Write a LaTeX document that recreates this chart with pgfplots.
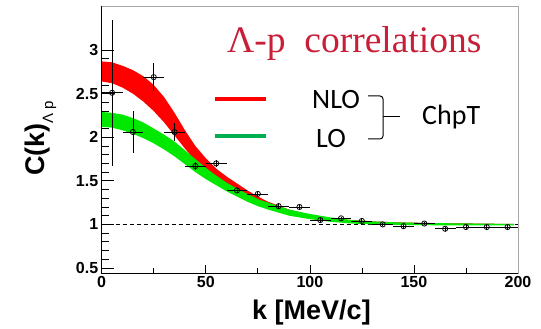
\documentclass[border=0pt]{standalone}
\usepackage{pgfplots}
\pgfplotsset{compat=1.18}
\usepackage{fontspec}
\setmainfont{Liberation Sans}
\newfontfamily\seriffont{Liberation Serif}
\newfontfamily\calibri{Carlito}
\definecolor{titlered}{RGB}{200,30,55}
\definecolor{bandgreen}{RGB}{0,232,0}
\definecolor{leggreen}{RGB}{0,176,80}

% NLO band: upper edge forward, lower edge backward
\pgfplotstableread{
k C
0 2.87
5 2.86
10 2.82
15 2.77
20 2.70
25 2.60
30 2.46
35 2.28
40 2.08
45 1.90
50 1.76
55 1.64
60 1.55
65 1.47
70 1.39
75 1.32
80 1.26
90 1.17
100 1.11
110 1.07
120 1.05
130 1.035
140 1.025
160 1.015
180 1.01
198 1.005
198 0.995
180 0.995
160 0.995
140 1.00
130 1.01
120 1.02
110 1.04
100 1.07
90 1.12
80 1.20
75 1.25
70 1.30
65 1.37
60 1.43
55 1.51
50 1.61
45 1.73
40 1.87
35 2.02
30 2.17
25 2.30
20 2.41
15 2.50
10 2.57
5 2.62
0 2.64
}\nloband
% LO band: upper edge forward, lower edge backward
\pgfplotstableread{
k C
0 2.29
5 2.28
10 2.26
15 2.22
20 2.17
25 2.10
30 2.03
35 1.95
40 1.85
45 1.75
50 1.65
55 1.56
60 1.48
65 1.41
70 1.35
75 1.29
80 1.25
90 1.17
100 1.12
110 1.08
120 1.05
130 1.035
140 1.025
160 1.015
180 1.01
198 1.005
198 0.99
180 0.99
160 0.99
140 0.995
130 1.00
120 1.01
110 1.03
100 1.06
90 1.10
80 1.17
75 1.21
70 1.26
65 1.32
60 1.38
55 1.45
50 1.52
45 1.60
40 1.69
35 1.78
30 1.86
25 1.93
20 1.99
15 2.04
10 2.08
5 2.11
0 2.12
}\loband
\pgfplotstableread{
k C ex ey
5 2.51 5 0.84
15 2.06 5 0.24
25 2.69 5 0.16
35 2.06 5 0.10
45 1.67 5 0.05
55 1.70 5 0.04
65 1.39 5 0.03
75 1.35 5 0.03
85 1.21 5 0.02
95 1.20 5 0.02
105 1.05 5 0.02
115 1.07 5 0.02
125 1.04 5 0.02
135 1.00 5 0.02
145 0.98 5 0.02
155 1.01 5 0.02
165 0.95 5 0.02
175 0.97 5 0.02
185 0.97 5 0.02
195 0.97 5 0.02
}\measured

\begin{document}
\begin{tikzpicture}
\begin{axis}[at={(0,0)}, anchor=south west, scale only axis,
  width=416.3pt, height=267pt,
  xmin=0, xmax=200, ymin=0.4425, ymax=3.506,
  xtick={0,50,...,200}, ytick={0.5,1,...,3},
  minor x tick num=1, minor y tick num=4,
  tick align=inside, xtick pos=bottom, ytick pos=left,
  major tick length=12pt, minor tick length=7pt,
  xtick style={/pgfplots/major tick length=8pt, /pgfplots/minor tick length=5pt},
  axis line style={gray!70, line width=0.8pt},
  tick style={black, line width=0.7pt},
  /pgf/number format/assume math mode=true,
  ticklabel style={font=\bfseries\fontsize{16}{16}\selectfont},
  xlabel={k [MeV/c]},
  xlabel style={font=\bfseries\fontsize{27}{27}\selectfont, at={(axis description cs:0.504,-0.176)}, anchor=base},
  ylabel={C(k)\raisebox{-9pt}{\mdseries\fontsize{15}{15}\selectfont Λ p}},
  ylabel style={font=\bfseries\fontsize{27}{27}\selectfont, at={(axis description cs:-0.1386,0.504)}, anchor=base},
]
\addplot[black, line width=0.6pt, dash pattern=on 4pt off 3pt] coordinates {(0,1) (200,1)};
\addplot[fill=red, draw=none] table[x=k,y=C] {\nloband} -- cycle;
\addplot[fill=bandgreen, draw=none] table[x=k,y=C] {\loband} -- cycle;
\addplot[black, line width=0.8pt, only marks, mark=o, mark size=2.6pt,
  error bars/.cd, x dir=both, y dir=both, x explicit, y explicit,
  error mark=none, error bar style={line width=0.8pt}]
  table[x=k, y=C, x error=ex, y error=ey] {\measured};
\end{axis}
\draw[black, line width=0.8pt] (0,267pt) -- (0,0) -- (416.3pt,0);
\node[anchor=base west, inner sep=0, text=titlered, font=\seriffont\fontsize{37.5}{37.5}\selectfont] at (125.3pt,220pt) {Λ-p\ \ correlations};
\draw[red, line width=4pt] (113.3pt,173.5pt) -- (164.3pt,173.5pt);
\draw[leggreen, line width=4pt] (113.3pt,137pt) -- (164.3pt,137pt);
\node[anchor=base west, inner sep=0, font=\calibri\fontsize{28}{28}\selectfont] at (210.3pt,164pt) {NLO};
\node[anchor=base west, inner sep=0, font=\calibri\fontsize{28}{28}\selectfont] at (214.3pt,125pt) {LO};
\node[anchor=base west, inner sep=0, font=\calibri\fontsize{28}{28}\selectfont] at (320.3pt,148pt) {ChpT};
\draw[black, line width=1pt, rounded corners=3pt] (266.3pt,177pt) -- (281.3pt,177pt) -- (281.3pt,134pt) -- (266.3pt,134pt);
\draw[black, line width=1pt] (281.3pt,156pt) -- (298.3pt,156pt);
\path (-101.7pt,-54pt) rectangle (439.3pt,273pt);
\end{tikzpicture}
\end{document}
